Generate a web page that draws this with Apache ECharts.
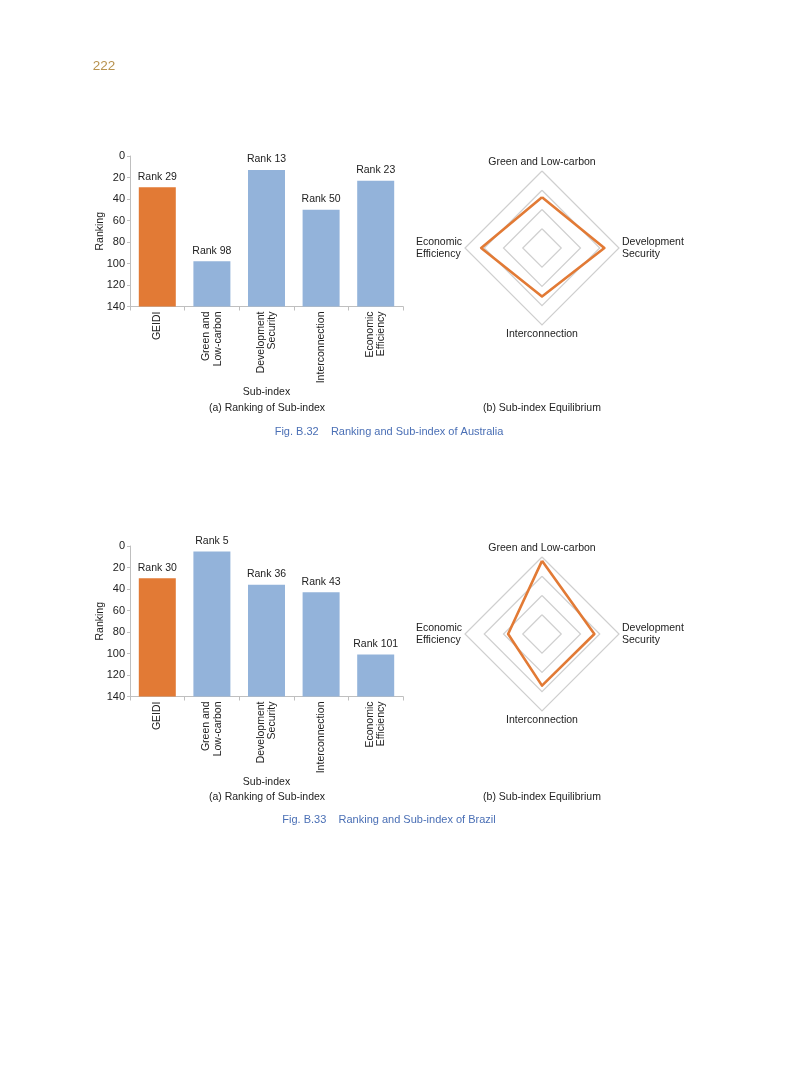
<!DOCTYPE html>
<html><head><meta charset="utf-8">
<script src="https://cdn.jsdelivr.net/npm/echarts@6/dist/echarts.min.js"></script>
<style>html,body{margin:0;padding:0;background:#fff;}#c{width:793px;height:1077px;}</style>
</head><body><div id="c"></div>
<script>
const categories = ['GEIDI', 'Green and\nLow-carbon', 'Development\nSecurity', 'Interconnection', 'Economic\nEfficiency'];
const yTicks = [0, 20, 40, 60, 80, 100, 120, 140];
const ausRanks = [29, 98, 13, 50, 23];
const braRanks = [30, 5, 36, 43, 101];
// radar indicators in ECharts order (counter-clockwise from top)
const radarIndicators = ['Green and Low-carbon', 'Economic\nEfficiency', 'Interconnection', 'Development\nSecurity'];
const ausRadar = [66, 79, 63, 81];
const braRadar = [95, 44, 67, 68];

const FONT = 'Liberation Sans';
const FS = 10.5;
const ORANGE = '#E27A35';
const BLUE = '#93B3DA';
const AXIS = '#BFBFBF';
const yMax = yTicks[yTicks.length - 1];
const yStep = yTicks[1] - yTicks[0];

function grid(top) { return { left: 130, width: 273, top: top, height: 150.5, containLabel: false }; }
function xAxis(i) {
  return {
    type: 'category', gridIndex: i, data: categories, position: 'bottom',
    name: 'Sub-index', nameLocation: 'middle', nameGap: 80, nameMoveOverlap: false,
    nameTextStyle: { fontFamily: FONT, fontSize: FS, color: '#222' },
    axisLine: { onZero: false, lineStyle: { color: AXIS } },
    axisTick: { show: true, alignWithLabel: false, length: 4, lineStyle: { color: AXIS } },
    axisLabel: { rotate: 90, fontFamily: FONT, fontSize: FS, color: '#222', margin: 5, lineHeight: 11.5, interval: 0 }
  };
}
function yAxis(i) {
  return {
    type: 'value', gridIndex: i, inverse: true, min: 0, max: yMax, interval: yStep,
    name: 'Ranking', nameLocation: 'middle', nameGap: 24, nameRotate: 90, nameMoveOverlap: false,
    nameTextStyle: { fontFamily: FONT, fontSize: FS, color: '#222' },
    axisLine: { show: true, lineStyle: { color: AXIS } },
    axisTick: { show: true, length: 3, lineStyle: { color: AXIS } },
    splitLine: { show: false },
    axisLabel: { fontFamily: FONT, fontSize: 11, color: '#222', margin: 5 }
  };
}
function barSeries(i, ranks) {
  return [
    { type: 'bar', xAxisIndex: i, yAxisIndex: i, stack: 's' + i, barWidth: 37, silent: true,
      itemStyle: { color: 'transparent' }, data: ranks },
    { type: 'bar', xAxisIndex: i, yAxisIndex: i, stack: 's' + i, barWidth: 37,
      data: ranks.map((r, k) => ({ value: yMax - r, itemStyle: { color: k === 0 ? ORANGE : BLUE } })),
      label: { show: true, position: 'top', distance: 5, fontFamily: FONT, fontSize: FS, color: '#222',
        formatter: p => 'Rank ' + ranks[p.dataIndex] } }
  ];
}
function radar(cy) {
  return {
    center: [542, cy], radius: 77, startAngle: 90, splitNumber: 4, shape: 'polygon',
    indicator: radarIndicators.map(n => ({ name: n, max: 100 })),
    axisName: {
      fontFamily: FONT, fontSize: FS, color: '#222', lineHeight: 12,
      formatter: n => n.split('\n').map(s => '{l|' + s + '}').join('\n'),
      rich: { l: { fontFamily: FONT, fontSize: FS, color: '#222', lineHeight: 12, align: 'left' } }
    },
    nameGap: 3,
    axisLine: { show: false }, axisTick: { show: false },
    splitArea: { show: false },
    splitLine: { lineStyle: { color: '#CFCFCF', width: 1.2 } }
  };
}
function radarSeries(i, vals) {
  return { type: 'radar', radarIndex: i, symbol: 'none',
    lineStyle: { color: ORANGE, width: 2.6 }, itemStyle: { color: ORANGE },
    data: [{ value: vals }] };
}
function txt(x, y, t, opts) {
  return Object.assign({ type: 'text', x: x, y: y, style: Object.assign({ text: t, fontFamily: FONT, fontSize: FS, fill: '#222', align: 'center', verticalAlign: 'middle' }, opts || {}) });
}

const chart = echarts.init(document.getElementById('c'), null, { renderer: 'canvas' });
chart.setOption({
  animation: false,
  backgroundColor: '#fff',
  grid: [grid(156), grid(546)],
  xAxis: [xAxis(0), xAxis(1)],
  yAxis: [yAxis(0), yAxis(1)],
  radar: [radar(248), radar(634)],
  series: [].concat(barSeries(0, ausRanks), barSeries(1, braRanks), [radarSeries(0, ausRadar), radarSeries(1, braRadar)]),
  graphic: [
    txt(104, 66, '222', { fill: '#B8924E', fontSize: 13.5 }),
    txt(267, 408, '(a) Ranking of Sub-index'),
    txt(542, 408, '(b) Sub-index Equilibrium'),
    txt(389, 432, 'Fig. B.32    Ranking and Sub-index of Australia', { fill: '#4A6FB5', fontSize: 11 }),
    txt(267, 797, '(a) Ranking of Sub-index'),
    txt(542, 797, '(b) Sub-index Equilibrium'),
    txt(389, 820, 'Fig. B.33    Ranking and Sub-index of Brazil', { fill: '#4A6FB5', fontSize: 11 })
  ]
});
</script></body></html>
